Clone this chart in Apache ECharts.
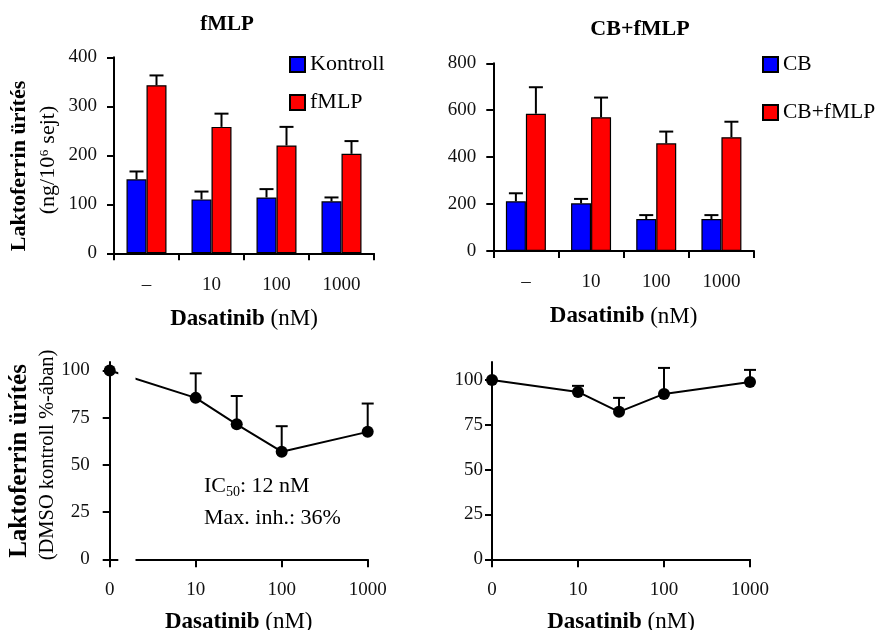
<!DOCTYPE html>
<html>
<head>
<meta charset="utf-8">
<script src="https://cdn.jsdelivr.net/npm/echarts@6/dist/echarts.min.js"></script>
<style>
  html, body { margin: 0; padding: 0; background: #fff; }
  #chart { width: 877px; height: 630px; }
</style>
</head>
<body>
<div id="chart"></div>
<script>
// Lactoferrin release, bar panels (ng/10^6 cells, mean and SEM)
const doseCategories = ['–', '10', '100', '1000'];
const kontrollMean = [151, 110, 114, 106];
const kontrollSem  = [16, 16, 17, 8];
const fmlpMean     = [343, 258, 220, 203];
const fmlpSem      = [20, 27, 38, 26];
const cbMean       = [212, 203, 136, 136];
const cbSem        = [34, 19, 17, 17];
const cbFmlpMean   = [585, 570, 459, 485];
const cbFmlpSem    = [113, 84, 50, 66];

// Dose-response panels (% of DMSO control)
const doseNM        = [0, 10, 30, 100, 1000];
const fmlpPct       = [100, 85.5, 71.5, 57, 67.5];
const fmlpPctSem    = [null, 13, 15, 13.5, 15];
const cbFmlpPct     = [100, 93.3, 82.2, 92.2, 98.9];
const cbFmlpPctSem  = [null, 3.4, 7.8, 14.5, 6.7];
const logTickLabels = ['0', '10', '100', '1000'];

// gap in the lower-left dose axis (in log10 units)
const axisBreak = [0.1, 0.3];

const FONT = "'Liberation Serif', 'Times New Roman', serif";
const BLACK = '#000';

// 0 nM is placed one decade left of 10 nM
const doseToX = d => (d === 0 ? 0 : Math.log10(d));

function barErrors(mean, sem, axis, offset) {
  return {
    type: 'custom',
    xAxisIndex: axis, yAxisIndex: axis,
    z: 5,
    silent: true,
    data: mean.map((m, i) => [i, m, m + sem[i]]),
    encode: { x: 0, y: [1, 2] },
    renderItem: (params, api) => {
      const base = api.coord([api.value(0), api.value(1)]);
      const top = api.coord([api.value(0), api.value(2)]);
      const x = base[0] + offset;
      return {
        type: 'group',
        children: [
          { type: 'line', shape: { x1: x, y1: base[1], x2: x, y2: top[1] }, style: { stroke: BLACK, lineWidth: 2 } },
          { type: 'line', shape: { x1: x - 7, y1: top[1], x2: x + 7, y2: top[1] }, style: { stroke: BLACK, lineWidth: 2 } }
        ]
      };
    }
  };
}

function pointErrors(values, sem, axis) {
  const data = [];
  values.forEach((v, i) => {
    if (sem[i] != null) data.push([doseToX(doseNM[i]), v, v + sem[i]]);
  });
  return {
    type: 'custom',
    xAxisIndex: axis, yAxisIndex: axis,
    z: 4,
    silent: true,
    data: data,
    encode: { x: 0, y: [1, 2] },
    renderItem: (params, api) => {
      const base = api.coord([api.value(0), api.value(1)]);
      const top = api.coord([api.value(0), api.value(2)]);
      return {
        type: 'group',
        children: [
          { type: 'line', shape: { x1: base[0], y1: base[1], x2: base[0], y2: top[1] }, style: { stroke: BLACK, lineWidth: 2 } },
          { type: 'line', shape: { x1: base[0] - 6, y1: top[1], x2: base[0] + 6, y2: top[1] }, style: { stroke: BLACK, lineWidth: 2 } }
        ]
      };
    }
  };
}

const pts = vals => vals.map((v, i) => [doseToX(doseNM[i]), v]);

const axisLineStyle = { show: true, lineStyle: { color: BLACK, width: 2 } };
const tickLabel = (margin) => ({ color: '#111', fontFamily: FONT, fontSize: 19, margin: margin });
const dasatinibName = {
  name: '{b|Dasatinib} (nM)',
  nameLocation: 'middle',
  nameTextStyle: {
    color: BLACK, fontFamily: FONT, fontSize: 23,
    rich: { b: { fontWeight: 'bold', fontFamily: FONT, fontSize: 23, color: BLACK } }
  }
};

function categoryX(grid) {
  return Object.assign({
    type: 'category', gridIndex: grid, data: doseCategories,
    axisLine: axisLineStyle,
    axisTick: { show: true, length: 7, alignWithLabel: false, lineStyle: { color: BLACK, width: 2 } },
    axisLabel: tickLabel(22),
    splitLine: { show: false },
    nameGap: 54
  }, dasatinibName);
}

function valueY(grid, max, interval, margin) {
  return {
    type: 'value', gridIndex: grid, min: 0, max: max, interval: interval,
    axisLine: axisLineStyle,
    axisTick: { show: true, length: 7, lineStyle: { color: BLACK, width: 2 } },
    axisLabel: tickLabel(margin),
    splitLine: { show: false }
  };
}

function doseX(grid, showLine) {
  return Object.assign({
    type: 'value', gridIndex: grid, min: 0, max: 3, interval: 1,
    axisLine: { show: showLine, lineStyle: { color: BLACK, width: 2 } },
    axisTick: { show: true, length: 8, lineStyle: { color: BLACK, width: 2 } },
    axisLabel: Object.assign(tickLabel(21), { formatter: v => logTickLabels[Math.round(v)] }),
    splitLine: { show: false },
    nameGap: 51
  }, dasatinibName);
}

function pctY(grid, max, margin) {
  return {
    type: 'value', gridIndex: grid, min: 0, max: max,
    axisLine: axisLineStyle,
    axisTick: { show: true, length: 7, customValues: [0, 25, 50, 75, 100], lineStyle: { color: BLACK, width: 2 } },
    axisLabel: Object.assign(tickLabel(margin), { customValues: [0, 25, 50, 75, 100] }),
    splitLine: { show: false }
  };
}

const barItem = color => ({ color: color, borderColor: BLACK, borderWidth: 1.2 });

const legendText = size => ({ fontFamily: FONT, fontSize: size, color: BLACK, padding: [0, 0, 0, 0] });

const panelGrid = (left, right, top, bottom) => ({
  left: left, right: right, top: top, bottom: bottom, outerBoundsMode: 'none'
});

const chart = echarts.init(document.getElementById('chart'), null, { renderer: 'canvas' });

const option = {
  animation: false,
  backgroundColor: '#fff',
  textStyle: { fontFamily: FONT },
  title: [
    { text: 'fMLP', left: 222, top: 9, textAlign: 'center',
      textStyle: { fontFamily: FONT, fontWeight: 'bold', fontSize: 21, color: BLACK } },
    { text: 'CB+fMLP', left: 635, top: 13, textAlign: 'center',
      textStyle: { fontFamily: FONT, fontWeight: 'bold', fontSize: 22, color: BLACK } }
  ],
  legend: [
    { data: ['Kontroll', 'fMLP'], orient: 'vertical', left: 289, top: 53.5, padding: 0,
      itemWidth: 15, itemHeight: 15, itemGap: 16, icon: 'rect',
      textStyle: legendText(22) },
    { data: ['CB', 'CB+fMLP'], orient: 'vertical', left: 762, top: 53.5, padding: 0,
      itemWidth: 15, itemHeight: 15, itemGap: 26, icon: 'rect',
      textStyle: legendText(21.5) }
  ],
  grid: [
    panelGrid(114, 503, 57.3, 376.7),
    panelGrid(493.3, 123, 63.3, 379),
    panelGrid(109.7, 509.3, 362, 70.7),
    panelGrid(492, 127, 362, 70.7)
  ],
  xAxis: [
    categoryX(0),
    categoryX(1),
    doseX(2, true),
    doseX(3, true)
  ],
  yAxis: [
    valueY(0, 400, 100, 17),
    valueY(1, 800, 200, 17),
    pctY(2, 104.5, 20),
    pctY(3, 110, 9)
  ],
  series: [
    { name: 'Kontroll', type: 'bar', xAxisIndex: 0, yAxisIndex: 0, data: kontrollMean,
      barWidth: 20, barGap: '0%', itemStyle: barItem('#0000ff') },
    { name: 'fMLP', type: 'bar', xAxisIndex: 0, yAxisIndex: 0, data: fmlpMean,
      barWidth: 20, barGap: '0%', itemStyle: barItem('#ff0000') },
    barErrors(kontrollMean, kontrollSem, 0, -10),
    barErrors(fmlpMean, fmlpSem, 0, 10),

    { name: 'CB', type: 'bar', xAxisIndex: 1, yAxisIndex: 1, data: cbMean,
      barWidth: 20, barGap: '0%', itemStyle: barItem('#0000ff') },
    { name: 'CB+fMLP', type: 'bar', xAxisIndex: 1, yAxisIndex: 1, data: cbFmlpMean,
      barWidth: 20, barGap: '0%', itemStyle: barItem('#ff0000') },
    barErrors(cbMean, cbSem, 1, -10),
    barErrors(cbFmlpMean, cbFmlpSem, 1, 10),

    { type: 'line', xAxisIndex: 2, yAxisIndex: 2, data: pts(fmlpPct), symbol: 'none',
      lineStyle: { color: BLACK, width: 2 }, z: 3, silent: true },
    pointErrors(fmlpPct, fmlpPctSem, 2),
    { type: 'scatter', xAxisIndex: 2, yAxisIndex: 2, data: pts(fmlpPct), symbol: 'circle',
      symbolSize: 12, itemStyle: { color: BLACK, opacity: 1 }, z: 6, silent: true },

    { type: 'line', xAxisIndex: 3, yAxisIndex: 3, data: pts(cbFmlpPct), symbol: 'none',
      lineStyle: { color: BLACK, width: 2 }, z: 3, silent: true },
    pointErrors(cbFmlpPct, cbFmlpPctSem, 3),
    { type: 'scatter', xAxisIndex: 3, yAxisIndex: 3, data: pts(cbFmlpPct), symbol: 'circle',
      symbolSize: 12, itemStyle: { color: BLACK, opacity: 1 }, z: 6, silent: true }
  ]
};

chart.setOption(option);

// axis titles, the break band of the lower-left dose axis, and the IC50 note
const breakLeft = chart.convertToPixel({ gridIndex: 2 }, [axisBreak[0], 104.5]);
const breakRight = chart.convertToPixel({ gridIndex: 2 }, [axisBreak[1], 0]);

const yTitle = (x, y, text, bold, size) => ({
  type: 'text', x: x, y: y, rotation: Math.PI / 2, z: 50,
  style: {
    text: text, fill: BLACK, fontFamily: FONT, fontSize: size,
    fontWeight: bold ? 'bold' : 'normal',
    align: 'center', verticalAlign: 'middle',
    textAlign: 'center', textVerticalAlign: 'middle'
  }
});

chart.setOption({
  graphic: [
    yTitle(19, 166, 'Laktoferrin ürítés', true, 22),
    yTitle(48, 160, '(ng/10\u2076 sejt)', false, 22),
    yTitle(20, 461, 'Laktoferrin ürítés', true, 25),
    yTitle(48, 455, '(DMSO kontroll %-ában)', false, 20.5),
    {
      type: 'rect', z: 40, silent: true,
      shape: { x: breakLeft[0], y: breakLeft[1] - 2, width: breakRight[0] - breakLeft[0], height: breakRight[1] - breakLeft[1] + 4 },
      style: { fill: '#fff' }
    },
    {
      type: 'text', left: 204, top: 475, z: 50,
      style: {
        text: '{n|IC}{s|50}{n|: 12 nM}',
        rich: {
          n: { fontFamily: FONT, fontSize: 22, color: BLACK, lineHeight: 26 },
          s: { fontFamily: FONT, fontSize: 14, color: BLACK, lineHeight: 10, verticalAlign: 'bottom' }
        }
      }
    },
    {
      type: 'text', left: 204, top: 507, z: 50,
      style: { text: 'Max. inh.: 36%', fontFamily: FONT, fontSize: 22, fill: BLACK }
    }
  ]
});
</script>
</body>
</html>
